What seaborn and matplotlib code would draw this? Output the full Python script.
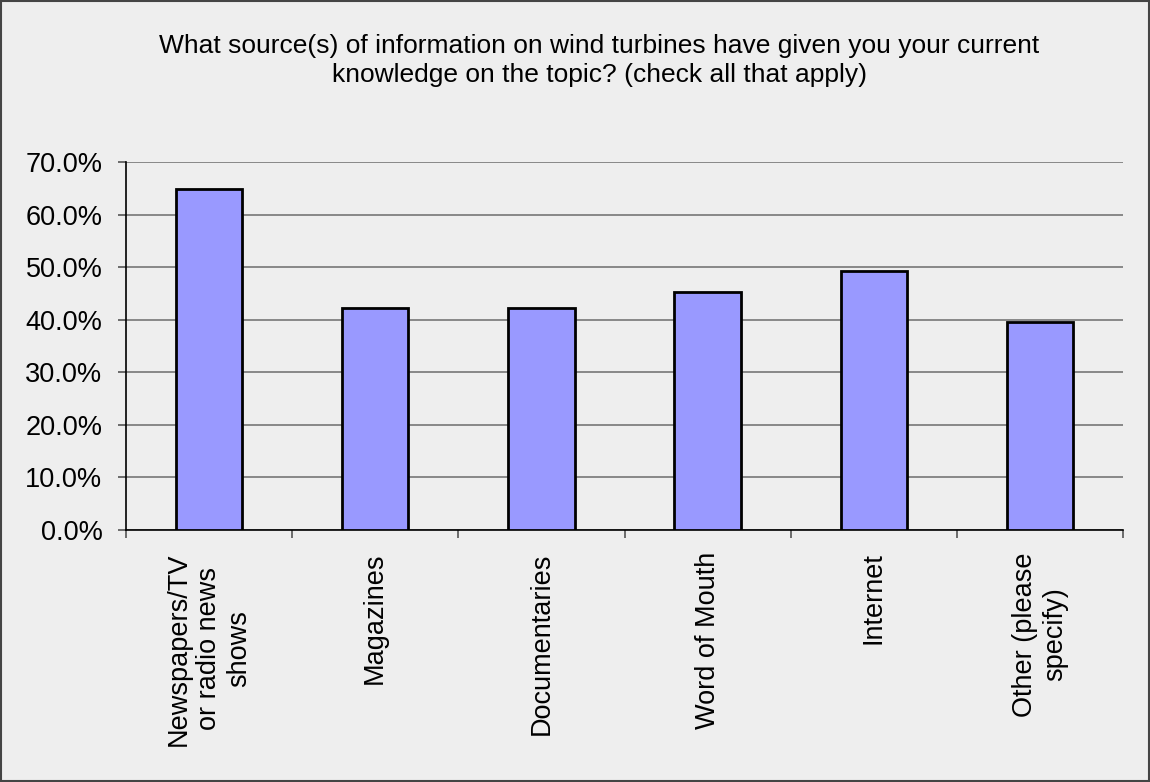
import matplotlib
matplotlib.use("Agg")
import matplotlib.pyplot as plt
import matplotlib.ticker as mtick
import seaborn as sns
import pandas as pd

# data
sources = ["Newspapers/TV\nor radio news\nshows", "Magazines", "Documentaries",
           "Word of Mouth", "Internet", "Other (please\nspecify)"]
percent = [64.8, 42.3, 42.3, 45.2, 49.3, 39.5]
title = ("What source(s) of information on wind turbines have given you your current\n"
         "knowledge on the topic? (check all that apply)")

df = pd.DataFrame({"source": sources, "percent": percent})

sns.set_style("white", {"xtick.bottom": True, "ytick.left": True,
                        "text.color": "black", "xtick.color": "black",
                        "ytick.color": "black"})
plt.rcParams["font.family"] = ["Liberation Sans", "DejaVu Sans"]

bg = "#EEEEEE"
fig = plt.figure(figsize=(11.5, 7.82), dpi=100, facecolor=bg)
ax = fig.add_axes([126 / 1150, 1 - 530 / 782, (1123 - 126) / 1150, (530 - 162) / 782])
ax.set_facecolor(bg)

sns.barplot(data=df, x="source", y="percent", color="#9999FF", width=0.4,
            edgecolor="black", linewidth=2, saturation=1, ax=ax, zorder=3)

ax.set_ylim(0, 70)
ax.set_xlim(-0.5, len(sources) - 0.5)
ax.yaxis.set_major_locator(mtick.MultipleLocator(10))
ax.yaxis.set_major_formatter(mtick.FuncFormatter(lambda v, p: f"{v:.1f}%"))
ax.grid(axis="y", color="#777777", linewidth=1.2, zorder=0)
ax.set_axisbelow(True)

for s in ["top", "right"]:
    ax.spines[s].set_visible(False)
ax.spines["left"].set_color("black")
ax.spines["bottom"].set_color("black")
ax.spines["left"].set_linewidth(1.2)
ax.spines["bottom"].set_linewidth(1.2)

# category tick marks sit between bars
ax.set_xticks([i - 0.5 for i in range(len(sources) + 1)], minor=True)
ax.tick_params(axis="x", which="minor", length=6, width=1.2, color="#555555",
               direction="out", bottom=True)
ax.tick_params(axis="x", which="major", length=0, pad=16)
ax.tick_params(axis="y", length=6, width=1.2, color="#555555", direction="out",
               labelsize=19.5, pad=11, left=True)
ax.set_xticks(range(len(sources)))
ax.set_xticklabels(sources, rotation=90, fontsize=19.5, ha="center", va="top",
                   multialignment="center", color="black")
ax.set_xlabel("")
ax.set_ylabel("")

fig.text(0.521, 0.956, title, ha="center", va="top", fontsize=19,
         linespacing=1.22, color="black")

# thin dark frame round the whole figure
fig.add_artist(plt.Rectangle((0.001, 0.001), 0.998, 0.998, transform=fig.transFigure,
                             fill=False, edgecolor="#444444", linewidth=1.5))

fig.savefig("out.png", dpi=100, facecolor=bg)
